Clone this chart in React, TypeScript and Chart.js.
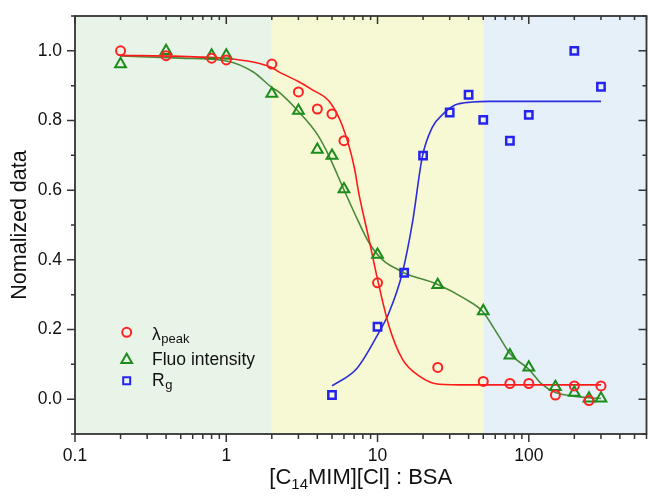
import React, { useEffect, useRef } from 'react';
import { Chart, registerables } from 'chart.js';

Chart.register(...registerables);

// ---- measured points ----
const lambdaX = [0.2, 0.4, 0.8, 1, 2, 3, 4, 5, 6, 10, 25, 50, 75, 100, 150, 200, 250, 300];
const lambdaY = [1.0, 0.986, 0.979, 0.974, 0.962, 0.882, 0.833, 0.819, 0.742, 0.334, 0.091, 0.051, 0.045, 0.045, 0.012, 0.038, -0.004, 0.038];

const fluoX = [0.2, 0.4, 0.8, 1, 2, 3, 4, 5, 6, 10, 25, 50, 75, 100, 150, 200, 250, 300];
const fluoY = [0.962, 1.0, 0.987, 0.987, 0.877, 0.828, 0.716, 0.699, 0.603, 0.415, 0.328, 0.253, 0.126, 0.091, 0.035, 0.019, 0.002, 0.002];

const rgX = [5, 10, 15, 20, 30, 40, 50, 75, 100, 200, 300];
const rgY = [0.012, 0.208, 0.363, 0.699, 0.823, 0.874, 0.802, 0.742, 0.816, 1.0, 0.897];

// ---- fitted curves ----
const lambdaFitX = [0.2, 0.5, 1, 1.5, 2, 2.24, 3, 3.71, 4.79, 5.86, 7.0, 7.55, 8.79, 10, 11.9, 14.6, 18.8, 25.5, 40, 100, 300];
const lambdaFitY = [0.987, 0.984, 0.978, 0.968, 0.952, 0.939, 0.912, 0.888, 0.855, 0.784, 0.668, 0.587, 0.458, 0.344, 0.21, 0.115, 0.067, 0.043, 0.041, 0.041, 0.041];

const fluoFitX = [0.2, 0.5, 1, 1.5, 2, 2.24, 3, 4, 4.79, 5.86, 7.55, 8.79, 10, 11.3, 13.9, 15, 24.8, 38.2, 49.2, 63.4, 75.7, 100, 122, 150, 193, 250, 300];
const fluoFitY = [0.985, 0.979, 0.971, 0.94, 0.895, 0.881, 0.826, 0.76, 0.697, 0.611, 0.506, 0.449, 0.415, 0.393, 0.37, 0.362, 0.33, 0.287, 0.253, 0.181, 0.129, 0.086, 0.043, 0.019, 0.0095, 0.004, 0.002];

const rgFitX = [5, 7.3, 10.2, 11.9, 14.6, 17, 19.8, 23, 27.5, 32.8, 42.3, 54, 100, 300];
const rgFitY = [0.038, 0.088, 0.191, 0.248, 0.363, 0.506, 0.697, 0.78, 0.821, 0.845, 0.853, 0.855, 0.855, 0.855];

// ---- axes / regions ----
const xMin = 0.1;
const xMax = 600;
const yMin = -0.1;
const yMax = 1.1;
const xLabelTicks = [0.1, 1, 10, 100];
const yLabelTicks = [0, 0.2, 0.4, 0.6, 0.8, 1.0];
const bandEdges = [0.1, 2, 50, 600];
const bandColors = ['#e9f4e8', '#f7f9d4', '#e5f0f8'];

const FONT = '"Liberation Sans", Arial, sans-serif';
const RED = '#ff2222';
const RED_LINE = '#ff1a1a';
const GREEN = '#1c8c1c';
const GREEN_LINE = '#4a8a3a';
const BLUE = '#2424ee';
const BLUE_LINE = '#2c2cd8';

const pts = (xs: number[], ys: number[]) => xs.map((x, i) => ({ x, y: ys[i] }));

const isMajorLog = (v: number) => Math.abs(Math.log10(v) - Math.round(Math.log10(v))) < 1e-6;

const bandsPlugin = {
  id: 'bands',
  beforeDatasetsDraw(chart: any) {
    const { ctx, chartArea: a, scales } = chart;
    ctx.save();
    for (let i = 0; i < bandColors.length; i++) {
      const x0 = Math.max(a.left, scales.x.getPixelForValue(bandEdges[i]));
      const x1 = Math.min(a.right, scales.x.getPixelForValue(bandEdges[i + 1]));
      ctx.fillStyle = bandColors[i];
      ctx.fillRect(x0, a.top, x1 - x0, a.bottom - a.top);
    }
    ctx.restore();
  },
};

const framePlugin = {
  id: 'frame',
  afterDraw(chart: any) {
    const { ctx, chartArea: a, scales } = chart;
    const xs = scales.x;
    const ys = scales.y;
    ctx.save();
    ctx.strokeStyle = '#333';
    ctx.lineWidth = 1.5;
    ctx.beginPath();
    xs.ticks.forEach((t: any) => {
      const px = xs.getPixelForValue(t.value);
      if (px < a.left - 0.5 || px > a.right + 0.5) return;
      const major = isMajorLog(t.value);
      ctx.moveTo(px, a.bottom);
      ctx.lineTo(px, a.bottom + (major ? 8 : 5));
      ctx.moveTo(px, a.top);
      ctx.lineTo(px, a.top + (major ? 8 : 4));
    });
    ys.ticks.forEach((t: any) => {
      const py = ys.getPixelForValue(t.value);
      if (py < a.top - 0.5 || py > a.bottom + 0.5) return;
      const k = Math.round(t.value * 10);
      const major = k % 2 === 0;
      ctx.moveTo(a.left, py);
      ctx.lineTo(a.left - (major ? 8 : 4), py);
      ctx.moveTo(a.right, py);
      ctx.lineTo(a.right - (major ? 8 : 4), py);
    });
    ctx.stroke();
    ctx.lineWidth = 1.8;
    ctx.strokeRect(a.left, a.top, a.right - a.left, a.bottom - a.top);
    ctx.restore();

    // x-axis title with subscript
    ctx.save();
    ctx.fillStyle = '#111';
    ctx.textBaseline = 'alphabetic';
    const main = `22px ${FONT}`;
    const sub = `15px ${FONT}`;
    const parts: [string, string, number][] = [
      ['[C', main, 0],
      ['14', sub, 5],
      ['MIM][Cl] : BSA', main, 0],
    ];
    let total = 0;
    parts.forEach(([s, f]) => {
      ctx.font = f;
      total += ctx.measureText(s).width;
    });
    let x = (a.left + a.right) / 2 - total / 2;
    const base = 483.5;
    parts.forEach(([s, f, dy]) => {
      ctx.font = f;
      ctx.fillText(s, x, base + dy);
      x += ctx.measureText(s).width;
    });
    ctx.restore();
  },
};

const drawMarker = (ctx: CanvasRenderingContext2D, kind: string, x: number, y: number, color: string) => {
  ctx.save();
  ctx.strokeStyle = color;
  ctx.lineWidth = 2;
  ctx.beginPath();
  if (kind === 'circle') {
    ctx.arc(x, y, 4.5, 0, Math.PI * 2);
  } else if (kind === 'triangle') {
    const r = 6.2;
    ctx.moveTo(x, y - r * 0.75);
    ctx.lineTo(x + r * 0.866, y + r * 0.75);
    ctx.lineTo(x - r * 0.866, y + r * 0.75);
    ctx.closePath();
  } else {
    ctx.rect(x - 3.5, y - 3.5, 7, 7);
  }
  ctx.stroke();
  ctx.restore();
};

const legendPlugin = {
  id: 'customLegend',
  afterDatasetsDraw(chart: any) {
    const { ctx } = chart;
    const rows = [
      { kind: 'circle', color: RED, my: 332.3, base: 339.5, main: 'λ', sub: 'peak', subDy: 3.5 },
      { kind: 'triangle', color: GREEN, my: 358.3, base: 364.5, main: 'Fluo intensity', sub: '', subDy: 0 },
      { kind: 'rect', color: BLUE, my: 380.7, base: 385.5, main: 'R', sub: 'g', subDy: 3.5 },
    ];
    ctx.save();
    ctx.fillStyle = '#111';
    ctx.textBaseline = 'alphabetic';
    rows.forEach((r) => {
      drawMarker(ctx, r.kind, 126.7, r.my, r.color);
      ctx.font = `17.5px ${FONT}`;
      ctx.fillText(r.main, 152, r.base);
      const w = ctx.measureText(r.main).width;
      if (r.sub) {
        ctx.font = `13px ${FONT}`;
        ctx.fillText(r.sub, 152 + w + 0.5, r.base + r.subDy);
      }
    });
    ctx.restore();
  },
};

export default function App() {
  const ref = useRef<HTMLCanvasElement | null>(null);

  useEffect(() => {
    if (!ref.current) return;
    Chart.defaults.font.family = FONT;
    const chart = new Chart(ref.current, {
      type: 'scatter',
      data: {
        datasets: [
          {
            label: 'λpeak',
            data: pts(lambdaX, lambdaY),
            pointStyle: 'circle',
            pointRadius: 4.5,
            pointBorderWidth: 2,
            borderColor: RED,
            backgroundColor: 'rgba(0,0,0,0)',
            order: 0,
          },
          {
            label: 'Fluo intensity',
            data: pts(fluoX, fluoY),
            pointStyle: 'triangle',
            pointRadius: 6.2,
            pointBorderWidth: 2,
            borderColor: GREEN,
            backgroundColor: 'rgba(0,0,0,0)',
            order: 0,
          },
          {
            label: 'Rg',
            data: pts(rgX, rgY),
            pointStyle: 'rect',
            pointRadius: 5.2,
            pointBorderWidth: 2.5,
            borderColor: BLUE,
            backgroundColor: 'rgba(0,0,0,0)',
            order: 0,
          },
          {
            label: 'λ fit',
            data: pts(lambdaFitX, lambdaFitY),
            showLine: true,
            pointRadius: 0,
            borderColor: RED_LINE,
            borderWidth: 1.6,
            cubicInterpolationMode: 'monotone',
            order: 1,
          },
          {
            label: 'Fluo fit',
            data: pts(fluoFitX, fluoFitY),
            showLine: true,
            pointRadius: 0,
            borderColor: GREEN_LINE,
            borderWidth: 1.6,
            cubicInterpolationMode: 'monotone',
            order: 1,
          },
          {
            label: 'Rg fit',
            data: pts(rgFitX, rgFitY),
            showLine: true,
            pointRadius: 0,
            borderColor: BLUE_LINE,
            borderWidth: 1.6,
            cubicInterpolationMode: 'monotone',
            order: 1,
          },
        ] as any,
      },
      options: {
        animation: false,
        responsive: false,
        layout: { autoPadding: false, padding: { top: 16, right: 1.5, left: 0, bottom: 0 } },
        plugins: {
          legend: { display: false },
          tooltip: { enabled: false },
        },
        scales: {
          x: {
            type: 'logarithmic',
            min: xMin,
            max: xMax,
            afterFit: (s: any) => {
              s.height = 67;
              s.paddingLeft = 0;
              s.paddingRight = 0;
            },
            afterBuildTicks: (s: any) => {
              const t: { value: number }[] = [];
              for (let d = 0.1; d < xMax * 1.0001; d *= 10) {
                for (let m = 1; m <= 9; m++) {
                  const v = parseFloat((m * d).toPrecision(6));
                  if (v >= xMin - 1e-9 && v <= xMax + 1e-9) t.push({ value: v });
                }
              }
              s.ticks = t;
            },
            border: { display: false },
            grid: { drawOnChartArea: false, drawTicks: true, tickLength: 8, tickColor: 'rgba(0,0,0,0)' },
            ticks: {
              autoSkip: false,
              maxRotation: 0,
              minRotation: 0,
              padding: 4,
              color: '#111',
              font: { size: 17.5 },
              callback: (v: any) => {
                const n = Number(v);
                const hit = xLabelTicks.find((t) => Math.abs(t - n) / t < 1e-6);
                return hit !== undefined ? String(hit) : '';
              },
            },
          },
          y: {
            type: 'linear',
            min: yMin,
            max: yMax,
            afterFit: (s: any) => {
              s.width = 75;
              s.paddingTop = 0;
              s.paddingBottom = 0;
            },
            border: { display: false },
            grid: { drawOnChartArea: false, drawTicks: true, tickLength: 8, tickColor: 'rgba(0,0,0,0)' },
            title: {
              display: true,
              text: 'Nomalized data',
              color: '#111',
              font: { size: 21.5 },
              padding: { top: 7, bottom: 0 },
            },
            ticks: {
              stepSize: 0.1,
              padding: 5,
              color: '#111',
              font: { size: 17.5 },
              callback: (v: any) => {
                const n = Number(v);
                const hit = yLabelTicks.find((t) => Math.abs(t - n) < 1e-6);
                return hit !== undefined ? hit.toFixed(1) : '';
              },
            },
          },
        },
      } as any,
      plugins: [bandsPlugin, framePlugin, legendPlugin],
    });
    return () => chart.destroy();
  }, []);

  return (
    <div style={{ position: 'absolute', left: 0, top: 0, width: 648, height: 501, background: '#fff' }}>
      <canvas ref={ref} width={648} height={501} />
    </div>
  );
}
